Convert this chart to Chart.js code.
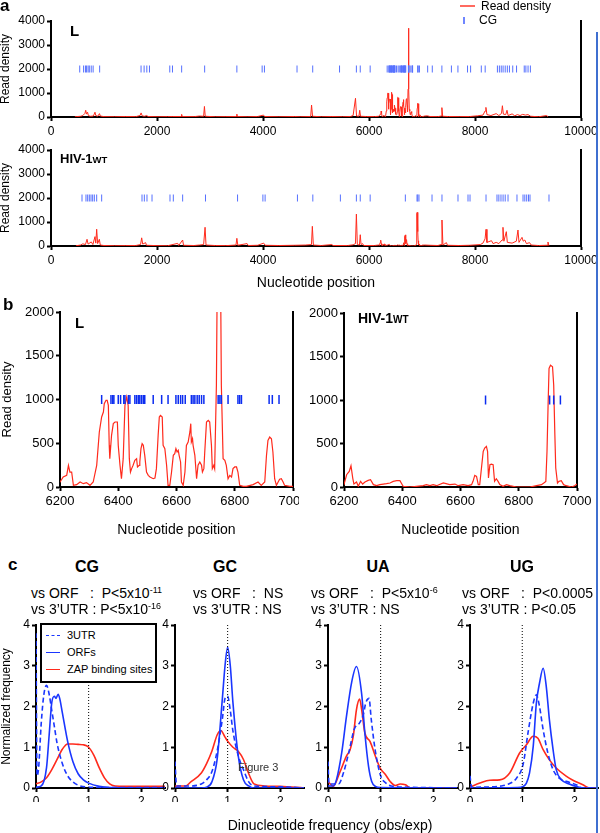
<!DOCTYPE html>
<html>
<head>
<meta charset="utf-8">
<script src="https://cdn.jsdelivr.net/npm/chart.js@4.4.1/dist/chart.umd.min.js"></script>
<style>
  body { margin: 0; background: #fff; font-family: "Liberation Sans", Arial, sans-serif; }
  #page { position: relative; width: 600px; height: 833px; overflow: hidden; background: #fff; }
  canvas { position: absolute; }
  .t { position: absolute; white-space: pre; color: #000; line-height: 1; z-index: 5; }
  .t sup { font-size: 9px; vertical-align: 5px; line-height: 0; }
  #zapLegend { position: absolute; left: 40px; top: 623px; width: 117px; height: 60px; box-sizing: border-box;
    border: 2px solid #000; background: #fff; z-index: 6; font-size: 11px; }
  #zapLegend .row { position: absolute; left: 0; }
  #zapLegend .mark { position: absolute; left: 4px; width: 14px; }
  #zapLegend .lbl { position: absolute; left: 25px; top: -6px; white-space: nowrap; line-height: 12px; }
</style>
</head>
<body>
<div id="page"></div>
<script>
// CG positions (nucleotide) in the L mutant and in wild type HIV-1
const cgPositionsL = [542, 615, 650, 672, 700, 723, 759, 795, 918, 1699, 1757, 1808, 1858, 2241, 2292, 2465, 2899,
  3507, 3984, 4027, 4642, 4938, 5444, 5762, 5835, 6022,
  6343, 6375, 6381, 6385, 6400, 6408, 6419, 6423, 6435, 6440, 6457, 6463, 6469, 6474, 6480, 6486, 6491, 6520,
  6549, 6571, 6598, 6606, 6614, 6621, 6630, 6651, 6657, 6663, 6671, 6678, 6686, 6694, 6743, 6749, 6754, 6777,
  6811, 6817, 6823, 6918, 6929, 6952,
  7107, 7194, 7375, 7555, 7678, 7859, 7917, 8119, 8192, 8423, 8460, 8495, 8530, 8570, 8610, 8650, 8712, 8784,
  8929, 8960, 9001, 9045];
const cgPositionsWT = [585, 660, 692, 723, 755, 786, 818, 862, 956, 1717, 1761, 1811, 1906, 2245, 2308, 2484, 2915,
  3520, 3998, 4040, 4650, 4940, 5460, 5762, 5835, 6022, 6686, 6906, 6920, 6943, 7189, 7377, 7679, 7868, 7906,
  8208, 8415, 8450, 8490, 8530, 8570, 8623, 8792, 8906, 8940, 8975, 9010, 9038, 9396];

// Read density [nucleotide position, reads]
const densityL = [[450,10],[560,30],[600,60],[640,150],[655,280],[670,120],[690,200],[705,60],[740,30],[800,40],
  [830,200],[845,60],[880,30],[915,140],[930,40],[1000,15],[1200,10],[1400,20],[1600,15],[1680,60],[1700,170],
  [1720,50],[1760,30],[1808,60],[1830,20],[2000,10],[2200,15],[2300,20],[2455,20],[2465,110],[2475,20],[2700,15],
  [2800,40],[2880,30],[2895,440],[2910,30],[3100,10],[3300,15],[3500,20],[3507,120],[3515,20],[3700,10],[3900,20],
  [4010,80],[4030,20],[4300,10],[4600,20],[4700,10],[4900,20],[4916,500],[4935,30],[5100,10],[5300,20],[5500,10],
  [5650,20],[5700,60],[5745,780],[5765,40],[5810,30],[5825,280],[5840,30],[5950,20],[6100,15],[6180,30],
  [6200,57],[6211,114],[6223,133],[6229,248],[6234,171],[6240,171],[6246,19],[6257,27],[6269,57],[6280,38],
  [6291,50],[6303,19],[6314,57],[6326,248],[6335,629],[6343,800],[6349,857],[6352,953],[6358,991],[6362,991],
  [6366,933],[6369,476],[6371,324],[6377,591],[6383,724],[6389,743],[6397,743],[6400,476],[6406,248],[6411,95],
  [6417,324],[6423,933],[6429,1029],[6434,933],[6438,324],[6442,171],[6446,210],[6451,248],[6457,305],[6463,324],
  [6466,229],[6472,248],[6474,286],[6478,438],[6482,495],[6486,476],[6491,362],[6497,171],[6503,133],[6509,114],
  [6520,95],[6526,103],[6531,210],[6537,591],[6541,800],[6545,819],[6551,800],[6554,476],[6560,438],[6566,248],
  [6571,19],[6577,19],[6583,171],[6589,362],[6594,381],[6598,438],[6602,400],[6606,419],[6609,362],[6614,286],
  [6617,57],[6623,19],[6629,171],[6634,476],[6640,514],[6646,629],[6649,724],[6651,514],[6655,552],[6657,476],
  [6663,362],[6669,95],[6674,248],[6680,286],[6686,248],[6689,171],[6694,210],[6697,400],[6703,743],[6709,762],
  [6714,743],[6720,476],[6723,210],[6728,248],[6731,210],[6737,1162],[6743,3700],[6749,3500],[6754,1162],
  [6760,324],[6766,305],[6771,248],[6777,95],[6783,133],[6789,114],[6794,210],[6800,229],[6806,229],[6811,171],
  [6817,19],[6829,8],[6840,8],[6863,27],[6880,57],[6891,19],[6903,57],[6909,362],[6914,533],[6920,571],[6926,552],
  [6931,400],[6937,95],[6943,19],[6949,57],[6954,88],[6960,95],[6966,57],[6971,19],[6989,8],[7000,8],
  [7050,40],[7100,50],[7150,20],[7300,15],[7360,40],[7375,390],[7390,30],[7500,20],[7700,15],[7900,20],[8050,50],
  [8150,80],[8190,250],[8206,400],[8225,100],[8300,60],[8400,140],[8450,60],[8500,150],[8517,470],[8535,120],
  [8580,100],[8604,280],[8625,60],[8700,130],[8750,50],[8800,100],[8850,60],[8900,110],[8950,80],[9000,100],
  [9050,30],[9200,10],[9350,60],[9380,10]];

const densityWT = [[470,10],[560,40],[600,90],[650,60],[680,280],[700,80],[760,170],[790,60],[830,390],[845,120],
  [862,700],[880,100],[912,280],[930,40],[1000,20],[1200,10],[1400,15],[1600,20],[1690,60],[1711,340],[1730,80],
  [1786,140],[1800,30],[2000,15],[2200,10],[2390,110],[2410,20],[2484,250],[2500,30],[2700,20],[2800,40],[2880,60],
  [2907,780],[2925,40],[3100,20],[3300,15],[3490,40],[3507,320],[3525,30],[3700,100],[3720,20],[3900,30],[4013,120],
  [4040,30],[4300,20],[4600,30],[4800,40],[4915,60],[4931,820],[4950,40],[5100,20],[5300,60],[5320,20],[5600,20],
  [5700,50],[5745,100],[5762,1330],[5780,60],[5820,40],[5835,470],[5850,60],[5880,100],[5900,20],[6100,20],[6180,40],
  [6200,27],[6209,141],[6218,179],[6224,244],[6230,103],[6234,34],[6243,57],[6249,8],[6257,65],[6264,34],[6272,57],
  [6283,76],[6291,84],[6301,27],[6312,15],[6323,27],[6335,34],[6346,38],[6358,46],[6369,65],[6381,73],[6392,73],
  [6403,8],[6426,0],[6449,8],[6472,15],[6483,27],[6495,15],[6506,27],[6518,15],[6541,46],[6563,27],[6581,34],
  [6592,15],[6609,27],[6626,15],[6638,27],[6643,65],[6649,134],[6655,122],[6661,27],[6666,27],[6672,218],[6678,408],
  [6683,447],[6689,466],[6693,408],[6696,103],[6701,256],[6706,263],[6712,256],[6717,65],[6723,95],[6729,65],
  [6735,27],[6746,8],[6758,27],[6769,15],[6792,0],[6838,0],[6861,15],[6878,27],[6886,46],[6893,65],[6897,408],
  [6901,981],[6904,1363],[6909,1401],[6916,1382],[6920,1172],[6924,599],[6927,218],[6933,46],[6938,65],[6946,73],
  [6954,27],[6963,15],[6981,0],[6992,15],[7000,34],
  [7050,40],[7150,30],[7300,20],[7360,60],[7377,1083],[7395,40],[7460,140],[7480,30],[7700,20],[7900,30],[8100,60],
  [8150,120],[8190,300],[8208,694],[8225,150],[8311,222],[8340,100],[8400,150],[8450,100],[8510,250],[8528,778],
  [8545,200],[8591,597],[8610,150],[8700,120],[8780,200],[8811,667],[8830,150],[8887,361],[8910,200],[8940,250],
  [8970,100],[9030,139],[9060,40],[9200,20],[9360,30],[9377,167],[9395,10]];

// Dinucleotide frequency (obs/exp) distributions [x, normalized frequency]
const cgUtr = [[0,3.8],[0.02,0.3],[0.05,0.5],[0.1,1.6],[0.15,2.3],[0.2,2.52],[0.25,2.3],[0.3,1.9],[0.35,1.5],
  [0.4,1.1],[0.5,0.6],[0.6,0.3],[0.7,0.15],[0.8,0.07],[1.0,0.02],[1.5,0.01],[2.45,0.01]];
const cgOrf = [[0,0.02],[0.1,0.05],[0.2,0.5],[0.25,1.3],[0.3,2.1],[0.35,2.25],[0.38,2.2],[0.42,2.3],[0.45,2.2],
  [0.5,1.85],[0.6,1.15],[0.7,0.65],[0.8,0.35],[0.9,0.2],[1.0,0.12],[1.2,0.04],[1.4,0.01],[2.45,0]];
const cgZap = [[0,0.1],[0.1,0.15],[0.2,0.25],[0.3,0.45],[0.4,0.7],[0.5,0.95],[0.6,1.08],[0.7,1.08],[0.8,1.07],
  [0.9,1.06],[1.0,1.0],[1.1,0.8],[1.2,0.5],[1.3,0.25],[1.4,0.1],[1.5,0.05],[1.7,0.04],[2.0,0.04],[2.45,0.04]];

const gcUtr = [[0,0.65],[0.03,0.05],[0.3,0.05],[0.5,0.1],[0.6,0.2],[0.7,0.4],[0.8,0.9],[0.9,1.7],[0.95,2.2],
  [1.0,2.25],[1.05,1.9],[1.1,1.4],[1.2,0.8],[1.3,0.45],[1.4,0.15],[1.5,0.05],[2.0,0.03],[2.45,0]];
const gcOrf = [[0,0],[0.5,0],[0.6,0.02],[0.7,0.15],[0.8,0.7],[0.9,2.2],[0.95,3.0],[1.0,3.45],[1.05,3.0],[1.1,2.1],
  [1.2,0.8],[1.3,0.2],[1.4,0.05],[1.5,0],[2.45,0]];
const gcZap = [[0,0.05],[0.2,0.05],[0.3,0.15],[0.5,0.37],[0.6,0.6],[0.7,0.9],[0.8,1.3],[0.87,1.41],[0.95,1.25],
  [1.0,1.15],[1.1,1.0],[1.2,0.9],[1.3,0.7],[1.4,0.35],[1.5,0.1],[1.7,0.05],[2.0,0.04],[2.45,0]];

const uaUtr = [[0,0.65],[0.02,0.1],[0.2,0.1],[0.3,0.4],[0.4,0.9],[0.5,1.45],[0.6,1.6],[0.67,1.8],[0.72,2.1],
  [0.78,2.2],[0.82,1.7],[0.9,0.9],[1.0,0.3],[1.1,0.12],[1.2,0.05],[1.5,0.02],[2.45,0]];
const uaOrf = [[0,0.05],[0.1,0.05],[0.16,0.2],[0.26,0.86],[0.35,1.75],[0.45,2.6],[0.54,2.98],[0.64,2.3],[0.7,1.35],
  [0.77,0.53],[0.83,0.16],[0.9,0.04],[1.0,0.01],[2.45,0]];
const uaZap = [[0,0.16],[0.1,0.04],[0.22,0.37],[0.35,0.78],[0.42,0.94],[0.48,1.27],[0.54,1.92],[0.6,2.18],
  [0.64,1.92],[0.7,1.35],[0.8,1.14],[0.9,0.78],[0.99,0.49],[1.09,0.33],[1.18,0.16],[1.28,0.06],[1.37,0.1],
  [1.47,0.08],[1.57,0],[2.45,0]];

const ugUtr = [[0,0.3],[0.03,0.02],[0.6,0.05],[0.7,0.08],[0.89,0.24],[1.02,0.6],[1.11,1.35],[1.21,2.08],[1.27,2.29],
  [1.33,2.0],[1.4,1.43],[1.49,0.86],[1.59,0.45],[1.71,0.24],[1.9,0.14],[2.03,0.08],[2.16,0],[2.45,0]];
const ugOrf = [[0,0],[0.9,0.01],[1.02,0.04],[1.08,0.12],[1.14,0.37],[1.21,1.02],[1.27,2.08],[1.33,2.57],[1.4,2.94],
  [1.46,2.49],[1.52,1.67],[1.59,0.94],[1.65,0.45],[1.75,0.2],[1.9,0.1],[2.03,0.04],[2.2,0],[2.45,0]];
const ugZap = [[0,0.02],[0.19,0.12],[0.38,0.19],[0.57,0.2],[0.76,0.37],[0.95,0.86],[1.08,1.06],[1.21,1.27],
  [1.3,1.22],[1.4,0.94],[1.52,0.69],[1.65,0.49],[1.84,0.29],[1.97,0.19],[2.16,0.08],[2.29,0],[2.45,0]];

const page = document.getElementById('page');
const RED = '#ff2a1c';
const BLUE = '#1a36ff';
Chart.defaults.font.family = '"Liberation Sans", Arial, sans-serif';
Chart.defaults.color = '#000';

function toPoints(pairs) {
  return pairs.map(p => ({x: p[0], y: p[1]}));
}

function addText(html, x, y, size, opts = {}) {
  const el = document.createElement('div');
  el.className = 't';
  el.innerHTML = html;
  el.style.left = x + 'px';
  el.style.top = (y - size / 2) + 'px';
  el.style.fontSize = size + 'px';
  if (opts.bold) el.style.fontWeight = 'bold';
  if (opts.center) el.style.transform = 'translateX(-50%)';
  if (opts.color) el.style.color = opts.color;
  page.appendChild(el);
}

// box = canvas placement, plot = wanted chart area (page coordinates)
function buildChart(box, plot, datasets, xOpts, yOpts, withRightAxis) {
  const canvas = document.createElement('canvas');
  canvas.width = box.w;
  canvas.height = box.h;
  canvas.style.left = box.l + 'px';
  canvas.style.top = box.t + 'px';
  page.appendChild(canvas);
  const padL = plot.l - box.l;
  const padT = plot.t - box.t;
  const padR = box.l + box.w - plot.r;
  const padB = box.t + box.h - plot.b;
  const axisBase = {
    border: {color: '#000', width: 2},
    grid: {drawOnChartArea: false, tickLength: 4, tickWidth: 2, tickColor: '#000'}
  };
  const scales = {
    x: Object.assign({}, axisBase, {type: 'linear'}, xOpts, {
      afterFit: s => { s.height = padB; s.paddingLeft = 0; s.paddingRight = 0; }
    }),
    y: Object.assign({}, axisBase, yOpts, {
      afterFit: s => { s.width = padL; s.paddingTop = 0; s.paddingBottom = 0; }
    })
  };
  if (withRightAxis) {
    scales.y2 = {
      position: 'right', min: 0, max: 1,
      border: {color: '#000', width: 2},
      grid: {drawOnChartArea: false, drawTicks: false},
      ticks: {display: false},
      afterFit: s => { s.width = 0; s.paddingTop = 0; s.paddingBottom = 0; }
    };
  }
  return new Chart(canvas, {
    type: 'line',
    data: {datasets: datasets},
    options: {
      responsive: false,
      animation: false,
      events: [],
      layout: {padding: {top: padT, right: padR, left: 0, bottom: 0}},
      plugins: {legend: {display: false}, tooltip: {enabled: false}},
      scales: scales
    }
  });
}

function densitySet(pairs, width) {
  return {data: toPoints(pairs), borderColor: RED, borderWidth: width, pointRadius: 0, tension: 0};
}

function cgSet(positions, level, radius, color, width) {
  return {
    data: positions.map(p => ({x: p, y: level})),
    showLine: false, pointStyle: 'line', pointRotation: 90,
    pointRadius: radius, pointBorderColor: color, pointBorderWidth: width
  };
}

const plain = v => String(v);

// ---- panel a ----
function panelA(plot, box, cg, density, showTitle) {
  buildChart(box, plot,
    [cgSet(cg, 2000, 3.5, '#5570ff', 1), densitySet(density, 1)],
    {min: 0, max: 10000, ticks: {stepSize: 2000, autoSkip: false, padding: 3, font: {size: 12}, callback: plain},
     title: {display: showTitle, text: 'Nucleotide position', font: {size: 14}, padding: 0}},
    {min: 0, max: 4000, ticks: {stepSize: 1000, padding: 2, font: {size: 12}, callback: plain},
     title: {display: true, text: 'Read density', font: {size: 12}, padding: 0}},
    true);
}
panelA({l: 51, t: 21, r: 581, b: 117}, {l: -2, t: 0, w: 602, h: 140}, cgPositionsL, densityL, false);
panelA({l: 51, t: 150, r: 581, b: 246}, {l: -2, t: 140, w: 602, h: 152}, cgPositionsWT, densityWT, true);

// ---- panel b ----
function panelB(plot, box, cg, density, yTitle) {
  buildChart(box, plot,
    [cgSet(cg, 1000, 4.5, '#0b2cf0', 1.5), densitySet(density, 1.2)],
    {min: 6200, max: 7000, ticks: {stepSize: 200, autoSkip: false, padding: 3, font: {size: 13}, callback: plain},
     title: {display: true, text: 'Nucleotide position', font: {size: 14}, padding: 0}},
    {min: 0, max: 2000, ticks: {stepSize: 500, padding: 2, font: {size: 13}, callback: plain},
     title: {display: yTitle, text: 'Read density', font: {size: 13}, padding: {top: 2, bottom: 0}}},
    true);
}
panelB({l: 60, t: 312, r: 293, b: 487}, {l: -2, t: 300, w: 301, h: 239}, cgPositionsL, densityL, true);
panelB({l: 344, t: 313, r: 577, b: 487}, {l: 300, t: 300, w: 300, h: 239}, cgPositionsWT, densityWT, false);

// ---- panel c ----
function panelC(plot, box, utr, orf, zap, yTitle) {
  buildChart(box, plot,
    [
      {data: [{x: 1, y: 0}, {x: 1, y: 4}], borderColor: '#000', borderWidth: 1, borderDash: [1, 2], pointRadius: 0},
      {data: toPoints(utr), borderColor: BLUE, borderWidth: 1.6, borderDash: [5, 3], pointRadius: 0, cubicInterpolationMode: 'monotone'},
      {data: toPoints(orf), borderColor: BLUE, borderWidth: 1.6, pointRadius: 0, cubicInterpolationMode: 'monotone'},
      {data: toPoints(zap), borderColor: RED, borderWidth: 1.6, pointRadius: 0, cubicInterpolationMode: 'monotone'}
    ],
    {min: 0, max: 2.45, ticks: {stepSize: 1, includeBounds: false, padding: 2, font: {size: 12}, callback: plain}},
    {min: 0, max: 4, ticks: {stepSize: 1, padding: 2, font: {size: 12}, callback: plain},
     title: {display: yTitle, text: 'Normalized frequency', font: {size: 12}, padding: 0}},
    false);
}
panelC({l: 36, t: 625, r: 165, b: 788}, {l: -1, t: 612, w: 170, h: 190}, cgUtr, cgOrf, cgZap, true);
panelC({l: 175, t: 625, r: 304, b: 788}, {l: 155, t: 612, w: 152, h: 190}, gcUtr, gcOrf, gcZap, false);
panelC({l: 328, t: 625, r: 457, b: 788}, {l: 308, t: 612, w: 152, h: 190}, uaUtr, uaOrf, uaZap, false);
panelC({l: 470, t: 625, r: 598, b: 788}, {l: 450, t: 612, w: 150, h: 190}, ugUtr, ugOrf, ugZap, false);

// ---- texts ----
addText('a', 0, 5, 17, {bold: true});
addText('L', 70, 30, 15, {bold: true});
addText('HIV-1<span style="font-size:9.5px">WT</span>', 60, 158, 13, {bold: true});
addText('Read density', 481, 6, 12);
addText('CG', 479, 20, 12);

addText('b', 3, 304, 17, {bold: true});
addText('L', 75, 322, 15, {bold: true});
addText('HIV-1<span style="font-size:10px">WT</span>', 358, 318, 14, {bold: true});

addText('c', 8, 564, 17, {bold: true});
addText('CG', 87, 567, 16, {bold: true, center: true});
addText('GC', 225, 567, 16, {bold: true, center: true});
addText('UA', 378, 567, 16, {bold: true, center: true});
addText('UG', 522, 567, 16, {bold: true, center: true});
addText('vs ORF   :  P&lt;5x10<sup>-11</sup>', 31, 593, 14);
addText('vs 3\u2019UTR : P&lt;5x10<sup>-16</sup>', 31, 609, 14);
addText('vs ORF   :  NS', 193, 593, 14);
addText('vs 3\u2019UTR : NS', 193, 609, 14);
addText('vs ORF   :  P&lt;5x10<sup>-6</sup>', 311, 593, 14);
addText('vs 3\u2019UTR : NS', 311, 609, 14);
addText('vs ORF   :  P&lt;0.0005', 462, 593, 14);
addText('vs 3\u2019UTR : P&lt;0.05', 462, 609, 14);
addText('Figure 3', 238, 767, 11, {color: '#333'});
addText('Dinucleotide frequency (obs/exp)', 330, 825, 14, {center: true});

// legend marks of panel a
const redMark = document.createElement('div');
redMark.style.cssText = 'position:absolute;left:460px;top:5px;width:15px;height:1.5px;background:#ff6a60;z-index:5';
page.appendChild(redMark);
const blueMark = document.createElement('div');
blueMark.style.cssText = 'position:absolute;left:463px;top:17px;width:1.5px;height:7px;background:#6f86ff;z-index:5';
page.appendChild(blueMark);

// legend box of panel c
const zapLegend = document.createElement('div');
zapLegend.id = 'zapLegend';
zapLegend.innerHTML =
  '<div class="row" style="top:10px"><div class="mark" style="border-top:1.6px dashed ' + BLUE + '"></div><div class="lbl">3UTR</div></div>' +
  '<div class="row" style="top:27px"><div class="mark" style="border-top:1.6px solid ' + BLUE + '"></div><div class="lbl">ORFs</div></div>' +
  '<div class="row" style="top:44px"><div class="mark" style="border-top:1.6px solid ' + RED + '"></div><div class="lbl">ZAP binding sites</div></div>';
page.appendChild(zapLegend);

// blue page edge line on the right
const edge = document.createElement('div');
edge.style.cssText = 'position:absolute;left:596px;top:32px;width:2px;height:801px;background:#3f6fd0;z-index:7';
page.appendChild(edge);
</script>
</body>
</html>
